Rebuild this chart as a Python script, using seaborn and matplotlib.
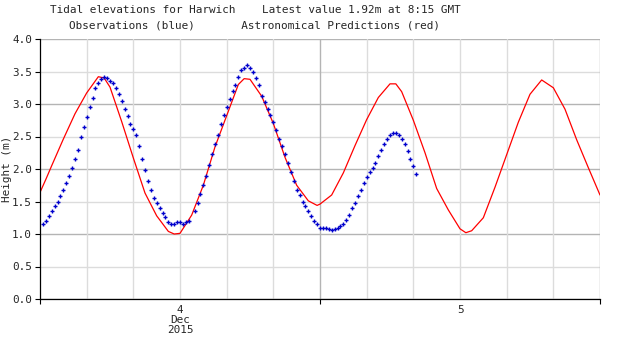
import numpy as np
import pandas as pd
import matplotlib
matplotlib.use("Agg")
import matplotlib.pyplot as plt
import matplotlib.dates as mdates
import seaborn as sns

# ---------------- data ----------------
start = pd.Timestamp("2015-12-04 00:00")

# observed heights (m), every 15 minutes from 00:15 4 Dec to 08:15 5 Dec
obs_values = [
    1.16, 1.20, 1.28, 1.36, 1.43, 1.50, 1.58, 1.67, 1.78, 1.89, 2.01, 2.16, 2.30, 2.49, 2.64, 2.80,
    2.95, 3.10, 3.24, 3.33, 3.39, 3.41, 3.40, 3.36, 3.32, 3.24, 3.15, 3.04, 2.92, 2.81, 2.70, 2.61,
    2.53, 2.36, 2.15, 1.98, 1.81, 1.67, 1.56, 1.47, 1.40, 1.33, 1.26, 1.18, 1.15, 1.15, 1.18, 1.18,
    1.16, 1.18, 1.20, np.nan, 1.36, 1.47, 1.61, 1.76, 1.90, 2.06, 2.23, 2.38, 2.53, 2.69, 2.83, 2.96,
    3.07, 3.20, 3.30, 3.41, 3.52, 3.56, 3.60, 3.56, 3.50, 3.40, 3.29, 3.13, 3.03, 2.93, 2.83, 2.72,
    2.60, 2.46, 2.35, 2.23, 2.09, 1.95, 1.81, 1.67, 1.60, 1.50, 1.43, 1.35, 1.27, 1.20, 1.15, 1.10,
    1.09, 1.09, 1.07, 1.06, 1.07, 1.10, 1.13, 1.16, 1.21, 1.30, 1.40, 1.47, 1.58, 1.67, 1.78, 1.87,
    1.96, 2.01, 2.10, 2.20, 2.30, 2.38, 2.46, 2.52, 2.56, 2.56, 2.53, 2.46, 2.38, 2.27, 2.15, 2.04,
    1.92,
]
obs_times = pd.date_range("2015-12-04 00:15", "2015-12-05 08:15", freq="15min")

# astronomical predictions: hours after 00:00 4 Dec, heights (m)
pred_hours = [0, 0.5, 1, 2, 3, 4, 5, 5.5, 6, 7, 8, 9, 10, 11, 11.5, 12, 13, 14, 15, 16, 17,
              17.5, 18, 19, 20, 21, 22, 23, 23.75, 24, 25, 26, 27, 28, 29, 30, 30.5, 31, 32,
              33, 34, 35, 36, 36.5, 37, 38, 39, 40, 41, 42, 43, 44, 45, 46, 47, 48]
pred_values = [1.64, 1.84, 2.05, 2.46, 2.85, 3.17, 3.42, 3.40, 3.26, 2.73, 2.17, 1.63, 1.28,
               1.04, 1.00, 1.01, 1.29, 1.75, 2.34, 2.82, 3.30, 3.39, 3.38, 3.12, 2.70, 2.18,
               1.75, 1.51, 1.44, 1.46, 1.60, 1.94, 2.36, 2.76, 3.10, 3.31, 3.31, 3.19, 2.75,
               2.25, 1.70, 1.37, 1.08, 1.02, 1.05, 1.25, 1.72, 2.22, 2.72, 3.15, 3.37, 3.25,
               2.92, 2.45, 2.02, 1.60]
pred_times = start + pd.to_timedelta(pred_hours, unit="h")

y_ticks = [0.0, 0.5, 1.0, 1.5, 2.0, 2.5, 3.0, 3.5, 4.0]
day_labels = ["4\nDec\n2015", "5"]

obs_df = pd.DataFrame({"time": obs_times, "height": obs_values})
pred_df = pd.DataFrame({"time": pred_times, "height": pred_values})

# ---------------- plot ----------------
sns.set_style("white")
plt.rcParams["font.family"] = ["DejaVu Sans Mono"]
FS = 7.9

fig = plt.figure(figsize=(6.2, 3.5), dpi=100)
ax = fig.add_axes([40 / 620, 51 / 350, 560 / 620, 260 / 350])

x0 = mdates.date2num(start)
x1 = mdates.date2num(start + pd.Timedelta(hours=48))

# grid lines
for v in y_ticks:
    ax.axhline(v, color="#b4b4b4" if v == int(v) else "#dcdcdc", lw=1.0, zorder=0)
for hh in range(4, 49, 4):
    xv = mdates.date2num(start + pd.Timedelta(hours=hh))
    ax.axvline(xv, color="#b4b4b4" if hh % 24 == 0 else "#dcdcdc", lw=1.0, zorder=0)

sns.lineplot(data=pred_df, x="time", y="height", ax=ax, color="#ff0000",
             lw=0.9, zorder=3, estimator=None)
sns.scatterplot(data=obs_df, x="time", y="height", ax=ax, marker="+", s=11,
                color="#0000cc", linewidth=1.0, zorder=4)

ax.set_xlim(x0, x1)
ax.set_ylim(0, 4.0)

ax.set_yticks(y_ticks)
ax.set_yticklabels([f"{v:.1f}" for v in y_ticks], fontsize=FS)
ax.tick_params(axis="y", direction="out", length=3.6, width=0.8, pad=2.2, color="black", left=True)

ax.set_xticks([mdates.date2num(start + pd.Timedelta(hours=h)) for h in (0, 24, 48)])
ax.set_xticklabels(["", "", ""])
ax.tick_params(axis="x", direction="out", length=3.6, width=0.8, color="black", bottom=True)

for i, lab in enumerate(day_labels):
    xv = mdates.date2num(start + pd.Timedelta(hours=12 + 24 * i))
    ax.text(xv, -6 / 260, lab, transform=ax.get_xaxis_transform(), ha="center", va="top",
            fontsize=FS, linespacing=1.0)

ax.set_xlabel("")
ax.set_ylabel("")
for side in ("top", "right"):
    ax.spines[side].set_visible(False)
for side in ("left", "bottom"):
    ax.spines[side].set_color("black")
    ax.spines[side].set_linewidth(0.9)
    ax.spines[side].set_zorder(5)

fig.text(7 / 620, (350 - 169) / 350, "Height (m)", rotation=90, ha="center", va="center",
         fontsize=FS)
fig.text(50 / 620, 1 - 10 / 350, "Tidal elevations for Harwich    Latest value 1.92m at 8:15 GMT",
         ha="left", va="center", fontsize=FS)
fig.text(69 / 620, 1 - 25 / 350, "Observations (blue)       Astronomical Predictions (red)",
         ha="left", va="center", fontsize=FS)

fig.savefig("out.png", dpi=100, facecolor="white")
